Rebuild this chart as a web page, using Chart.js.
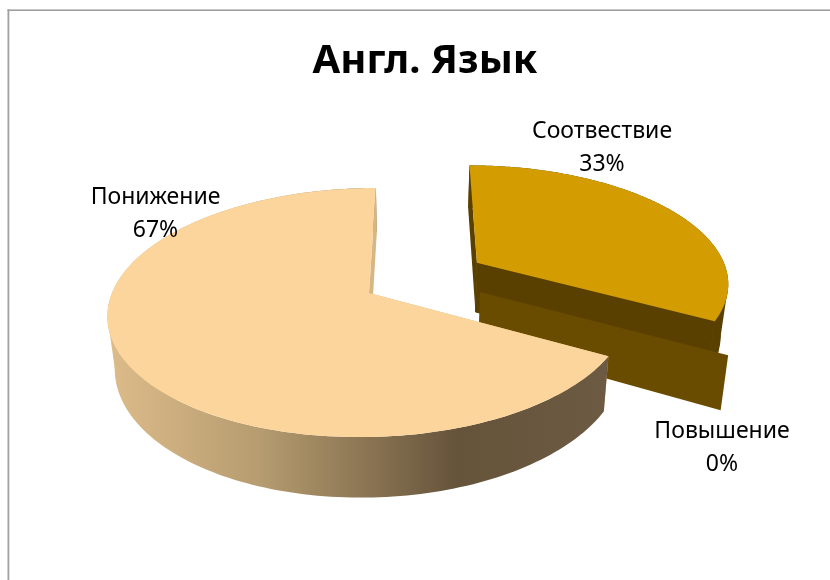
<!DOCTYPE html>
<html lang="ru">
<head>
<meta charset="utf-8">
<style>html,body{margin:0;padding:0;background:#fff}canvas{display:block}</style>
<script src="https://cdn.jsdelivr.net/npm/chart.js@4"></script>
</head>
<body>
<canvas id="c" width="830" height="580"></canvas>
<script>
// Data
const titleText = 'Англ. Язык';
const categories = ['Соотвествие', 'Повышение', 'Понижение'];
const percentValues = [33, 0, 67];

// Style
const topColors = ['#D39C00', '#694C00', '#FBD59B'];
const cutColors = ['#5A4000', '#694C00', '#D6B685'];
const wallColors = ['#5A4000', '#694C00', null];
const wallGradientStops = [[0, '#DDBB8A'], [0.3, '#B69C70'], [0.7, '#65533A'], [1, '#6C5A43']];
const wallGradientSpan = [110, 607];
const frameColor = '#A0A0A0';
const labelFont = '400 23px "Noto Sans", sans-serif';

// Layout: explosion per slice in radius units, projection, label anchors
const explodeX = [0.429, 0.432, 0];
const explodeY = [-0.258, -0.008, 0];
const wallDrop = [1.35, 1, 1];
const outerSide = [1, 0, -1];
const sealSeams = [true, false, false];
const labelCenters = [[602, 131], [722, 431.5], [155.5, 197]];
const labelLine = 33;
const view = {cx: 369, cy: 293, sx: 257, shear: -8, sy: 121.5, persp: 0.157, depth: 51, vanishX: 415, lean: 0.024};

// Projects a point of the pie plane (radius = 1) with drop z (0..1) onto the page
function project(X, Y, z) {
  const w = 1 - view.persp * Y;
  const px = view.cx + (view.sx * X + view.shear * Y) / w;
  const py = view.cy + view.sy * Y / w;
  return [px + z * (view.vanishX - px) * view.lean, py + z * view.depth / w];
}
function rimPoint(i, a, z) {
  return project(explodeX[i] + Math.cos(a), explodeY[i] + Math.sin(a), z);
}
function apexPoint(i, z) {
  return project(explodeX[i], explodeY[i], z);
}
function fillPoly(ctx, pts, fill, seal) {
  ctx.beginPath();
  pts.forEach((p, n) => n ? ctx.lineTo(p[0], p[1]) : ctx.moveTo(p[0], p[1]));
  ctx.closePath();
  ctx.fillStyle = fill;
  ctx.fill();
  if (seal) {
    ctx.strokeStyle = fill;
    ctx.lineWidth = 1;
    ctx.stroke();
  }
}
function cutFace(ctx, i, a, seal) {
  fillPoly(ctx, [apexPoint(i, 0), rimPoint(i, a, 0), rimPoint(i, a, 1), apexPoint(i, 1)], cutColors[i], seal);
}
function drawSlice(ctx, arc, i) {
  const a0 = arc.startAngle, a1 = arc.endAngle;
  const steps = 180;
  const rim = (z) => {
    const out = [];
    for (let s = 0; s <= steps; s++) out.push(rimPoint(i, a0 + (a1 - a0) * s / steps, z));
    return out;
  };
  let wall = wallColors[i];
  if (!wall) {
    wall = ctx.createLinearGradient(wallGradientSpan[0], 0, wallGradientSpan[1], 0);
    wallGradientStops.forEach(s => wall.addColorStop(s[0], s[1]));
  }
  cutFace(ctx, i, a0, false);
  if (a1 > a0) {
    const top = rim(0);
    fillPoly(ctx, top.concat(rim(1).reverse()), wall, false);
    if (outerSide[i]) {
      // straight silhouette from the rim's outermost point downwards
      let best = 0;
      top.forEach((p, n) => { if ((p[0] - top[best][0]) * outerSide[i] > 0) best = n; });
      const aOut = a0 + (a1 - a0) * best / steps;
      const aEnd = outerSide[i] > 0 ? a1 : aOut - 0.7;
      fillPoly(ctx, [rimPoint(i, aOut, 0), rimPoint(i, aOut, wallDrop[i]), rimPoint(i, aEnd, wallDrop[i]), rimPoint(i, aEnd, 0)], wall, false);
    }
    cutFace(ctx, i, a1, sealSeams[i]);
    fillPoly(ctx, [apexPoint(i, 0)].concat(top), arc.options.backgroundColor, false);
  }
}

const pie3d = {
  id: 'pie3d',
  beforeDraw(chart) {
    const ctx = chart.ctx;
    ctx.save();
    ctx.fillStyle = '#fff';
    ctx.fillRect(0, 0, chart.width, chart.height);
    ctx.fillStyle = frameColor;
    ctx.fillRect(7.5, 9.4, 1.8, chart.height - 9.4);
    ctx.fillRect(7.5, 9.4, chart.width - 7.5, 1.6);
    ctx.restore();
  },
  beforeDatasetsDraw(chart) {
    const ctx = chart.ctx;
    ctx.save();
    chart.getDatasetMeta(0).data.forEach((arc, i) => drawSlice(ctx, arc, i));
    ctx.restore();
    return false;
  },
  afterDraw(chart) {
    const ctx = chart.ctx;
    ctx.save();
    ctx.font = labelFont;
    ctx.fillStyle = '#000';
    ctx.textAlign = 'center';
    ctx.textBaseline = 'middle';
    categories.forEach((name, i) => {
      const [x, y] = labelCenters[i];
      ctx.fillText(name, x, y);
      ctx.fillText(percentValues[i] + '%', x, y + labelLine);
    });
    ctx.restore();
  }
};

new Chart(document.getElementById('c'), {
  type: 'pie',
  data: {
    labels: categories,
    datasets: [{data: percentValues, backgroundColor: topColors, borderWidth: 0}]
  },
  options: {
    responsive: false,
    animation: false,
    devicePixelRatio: 1,
    layout: {padding: {left: 20, top: 0}},
    plugins: {
      legend: {display: false},
      tooltip: {enabled: false},
      title: {
        display: true,
        text: titleText,
        color: '#000',
        font: {family: '"Noto Sans", sans-serif', size: 40, weight: '700'},
        padding: {top: 38, bottom: 10}
      }
    }
  },
  plugins: [pie3d]
});
</script>
</body>
</html>
